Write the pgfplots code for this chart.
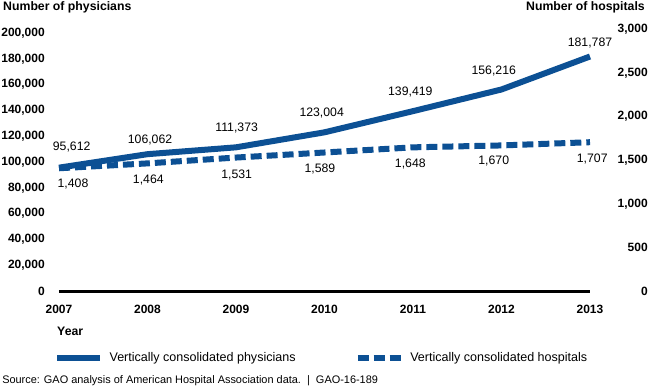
\documentclass[border=0pt]{standalone}
\usepackage{pgfplots}
\pgfplotsset{compat=1.18}
\usepackage{pgfplotstable}
\usepackage{fontspec}
\setmainfont{Liberation Sans}
\definecolor{gaoblue}{RGB}{12,80,148}

\pgfplotstableread{
year val dx dy
2007 95612 9.5 15.75
2008 106062 1.9 11
2009 111373 0.5 14.7
2010 123004 -2.1 14.7
2011 139419 -2 14.3
2012 156216 -5.8 13.7
2013 181787 0 10
}\phys
\pgfplotstableread{
year val dx dy
2007 1408 10.5 -11.5
2008 1464 0.6 -12.8
2009 1531 0.5 -13.4
2010 1589 -3.4 -12.2
2011 1648 -2 -12.8
2012 1670 -5.8 -12
2013 1707 1.7 -12.4
}\hosp

\pgfplotsset{
  common/.style={
    at={(44.25pt,71.25pt)}, anchor=south west,
    scale only axis, width=398.25pt, height=196.125pt,
    xmin=2007, xmax=2013, clip=false,
    major tick length=0pt, tick style={draw=none},
    tick label style={font=\fontsize{9}{10}\selectfont\bfseries, inner sep=0pt},
    /pgf/number format/fixed,
    /pgf/number format/precision=0,
    /pgf/number format/1000 sep={,},
    /pgf/number format/assume math mode=true,
    scaled y ticks=false,
  },
  labels/.style={
    nodes near coords,
    point meta=explicit,
    visualization depends on={\thisrow{dx} \as \dx},
    visualization depends on={\thisrow{dy} \as \dy},
    every node near coord/.append style={font=\fontsize{9.2}{11}\selectfont, text=black, anchor=center, inner sep=0pt, xshift=\dx pt, yshift=\dy pt},
  },
}

\begin{document}
\begin{tikzpicture}
\path[use as bounding box] (0,0) rectangle (487.5pt,289.5pt);

\begin{axis}[common,
  ymin=0, ymax=202713, ytick={0,20000,...,200000},
  axis x line=bottom, axis y line=left,
  x axis line style={-, line width=2.25pt, black},
  y axis line style={draw=none},
  xtick={2007,2008,2009,2010,2011,2012,2013},
  xticklabels={2007,2008,2009,2010,2011,2012,2013},
  xticklabel style={anchor=base, yshift=-16.7pt},
  yticklabel style={anchor=east, xshift=-10.5pt},
  ylabel={Number of physicians},
  every axis y label/.style={at={(axis description cs:-0.1055,1.0849)}, anchor=west, rotate=0, inner sep=0pt, font=\fontsize{9.2}{11}\selectfont\bfseries},
  xlabel={Year},
  every axis x label/.style={at={(axis description cs:-0.0038,-0.153)}, anchor=west, inner sep=0pt, font=\fontsize{9.2}{11}\selectfont\bfseries},
  legend columns=2, legend cell align=left,
  legend style={at={(axis description cs:0,0)}, anchor=west, xshift=-3.75pt, yshift=-50.25pt,
    draw=none, fill=none, inner sep=0pt, column sep=0pt,
    font=\fontsize{9.4}{11}\selectfont, nodes={inner sep=0pt},
    /tikz/every odd column/.append style={column sep=5pt}},
  legend image code/.code={\draw[#1] (0pt,0pt) -- (32pt,0pt);},
]
\addplot[gaoblue, line width=4.5pt, line join=round, labels] table[x=year, y=val, meta=val] {\phys};
\addlegendentry{\makebox[184pt][l]{Vertically consolidated physicians}}
\addlegendimage{gaoblue, line width=4.5pt, dash pattern=on 8.25pt off 3.6pt}
\addlegendentry{Vertically consolidated hospitals}
\end{axis}

\begin{axis}[common,
  ymin=0, ymax=3000, ytick={0,500,...,3000},
  axis x line=none, axis y line=right,
  y axis line style={draw=none},
  yticklabel style={anchor=east, xshift=43.5pt},
  ylabel={Number of hospitals},
  every axis y label/.style={at={(axis description cs:1.1036,1.0849)}, anchor=east, rotate=0, inner sep=0pt, font=\fontsize{9.2}{11}\selectfont\bfseries},
]
\addplot[gaoblue, line width=4.5pt, dash pattern=on 8.25pt off 3.75pt, labels] table[x=year, y=val, meta=val] {\hosp};
\end{axis}

\node[anchor=base west, inner sep=0pt, font=\fontsize{8.2}{10}\selectfont] at (1.5pt,2.25pt) {Source: GAO analysis of American Hospital Association data.\ \ |\ \ GAO-16-189};
\end{tikzpicture}
\end{document}
